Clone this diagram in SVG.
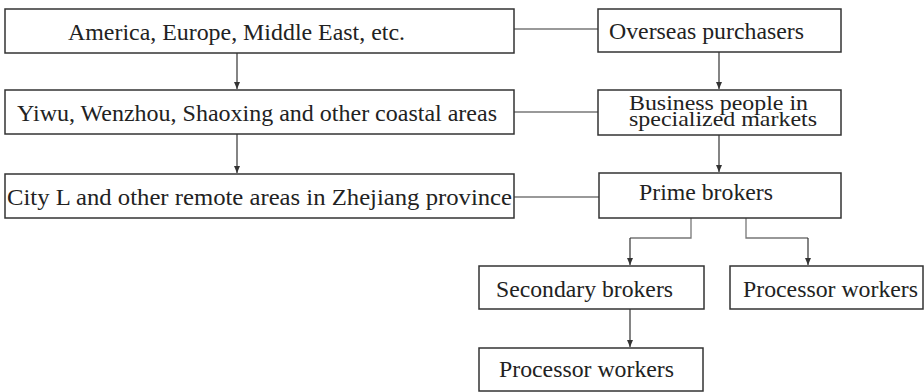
<svg xmlns="http://www.w3.org/2000/svg" width="924" height="392" viewBox="0 0 924 392">
<style>
.box{fill:#fff;stroke:#333;stroke-width:1.5}
.t{font-family:"Liberation Serif","Times New Roman",serif;font-size:24px;fill:#222}
.s{font-size:22px}
.link{fill:none;stroke:#777;stroke-width:1.3}
.arr{fill:none;stroke:#333;stroke-width:1.2;marker-end:url(#ah)}
</style>
<defs>
<marker id="ah" markerWidth="8" markerHeight="10" refX="7" refY="4" orient="auto" markerUnits="userSpaceOnUse">
<path d="M0,1 L7,4 L0,7 Z" fill="#333"/>
</marker>
</defs>
<g id="connectors">
<line class="link" x1="514" y1="29" x2="598" y2="29"/>
<line class="link" x1="514" y1="112" x2="598" y2="112"/>
<line class="link" x1="514" y1="197" x2="599" y2="197"/>
<line class="arr" x1="237" y1="53" x2="237" y2="89"/>
<line class="arr" x1="237" y1="134" x2="237" y2="173"/>
<line class="arr" x1="719" y1="52" x2="719" y2="89"/>
<line class="arr" x1="719" y1="135" x2="719" y2="172"/>
<polyline class="link" points="691,218 691,238 630,238"/>
<line class="arr" x1="630" y1="238" x2="630" y2="265"/>
<polyline class="link" points="746,218 746,238 808,238"/>
<line class="arr" x1="808" y1="238" x2="808" y2="265"/>
<line class="arr" x1="630" y1="309" x2="630" y2="347"/>
</g>
<g id="n1"><rect class="box" x="5" y="9" width="509" height="44"/><text class="t" x="68" y="40" textLength="337" lengthAdjust="spacingAndGlyphs">America, Europe, Middle East, etc.</text></g>
<g id="n2"><rect class="box" x="5" y="90" width="509" height="44"/><text class="t" x="17" y="121" textLength="480" lengthAdjust="spacingAndGlyphs">Yiwu, Wenzhou, Shaoxing and other coastal areas</text></g>
<g id="n3"><rect class="box" x="5" y="174" width="509" height="44"/><text class="t" x="7" y="205" textLength="505" lengthAdjust="spacingAndGlyphs">City L and other remote areas in Zhejiang province</text></g>
<g id="n4"><rect class="box" x="598" y="9" width="243" height="43"/><text class="t" x="609" y="39" textLength="195" lengthAdjust="spacingAndGlyphs">Overseas purchasers</text></g>
<g id="n5"><rect class="box" x="598" y="90" width="243" height="45"/><text class="t s" x="629" y="110" textLength="179" lengthAdjust="spacingAndGlyphs">Business people in</text><text class="t s" x="629" y="126" textLength="188" lengthAdjust="spacingAndGlyphs">specialized markets</text></g>
<g id="n6"><rect class="box" x="599" y="173" width="242" height="45"/><text class="t" x="639" y="200" textLength="134" lengthAdjust="spacingAndGlyphs">Prime brokers</text></g>
<g id="n7"><rect class="box" x="479" y="266" width="225" height="43"/><text class="t" x="496" y="297" textLength="177" lengthAdjust="spacingAndGlyphs">Secondary brokers</text></g>
<g id="n8"><rect class="box" x="730" y="266" width="193" height="43"/><text class="t" x="743" y="297" textLength="175" lengthAdjust="spacingAndGlyphs">Processor workers</text></g>
<g id="n9"><rect class="box" x="479" y="348" width="224" height="43"/><text class="t" x="499" y="377" textLength="175" lengthAdjust="spacingAndGlyphs">Processor workers</text></g>
</svg>
